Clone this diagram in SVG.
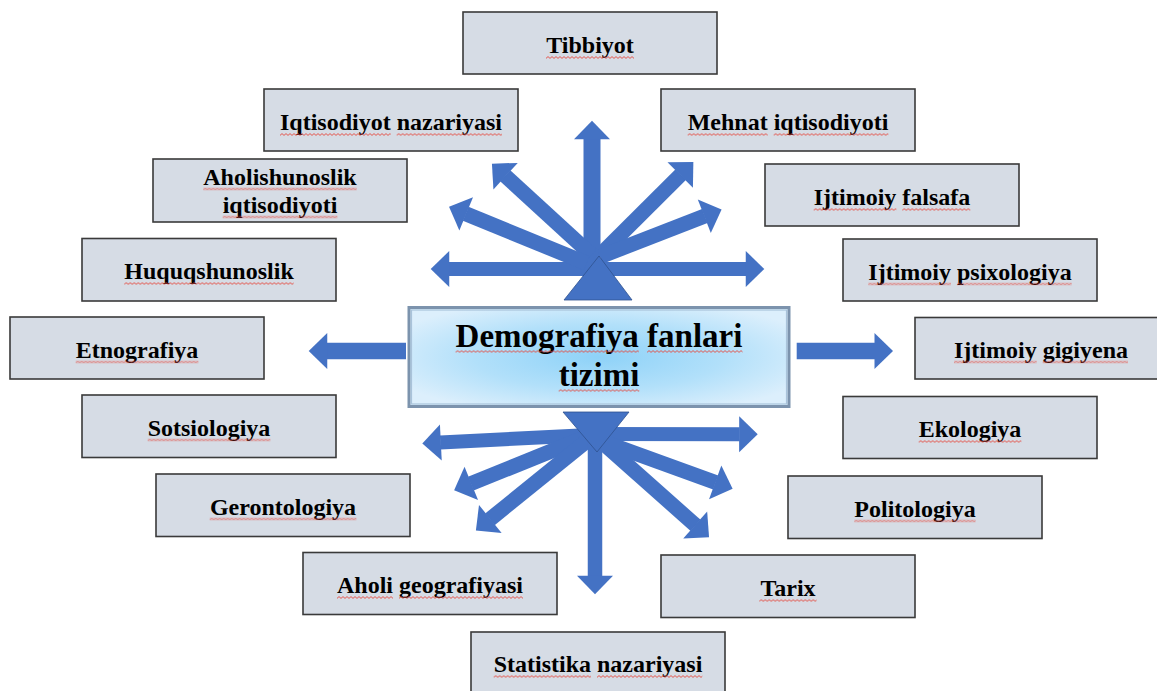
<svg xmlns="http://www.w3.org/2000/svg" width="1157" height="691" viewBox="0 0 1157 691">
<style>
.box{fill:#D6DCE5;stroke:#3A3A3A;stroke-width:1.6}
.lbl{font-family:"Liberation Serif","Times New Roman",serif;font-weight:bold;font-size:24px;fill:#000;text-anchor:middle}
.title{font-family:"Liberation Serif","Times New Roman",serif;font-weight:bold;font-size:33px;fill:#000;text-anchor:middle}
.wv{fill:url(#wv)}
.arr{stroke:#4472C4;fill:none;stroke-linecap:butt}
.tri{fill:#4472C4;stroke:#2F528F;stroke-width:0.8}
</style>
<defs>
<marker id="ah" markerUnits="userSpaceOnUse" markerWidth="20" markerHeight="36" viewBox="0 0 17 34" refX="0" refY="17" orient="auto-start-reverse" overflow="visible">
<path d="M-0.5,0 L17,17 L-0.5,34 Z" fill="#4472C4"/>
</marker>
<radialGradient id="cg" cx="0.5" cy="0.5" r="0.6">
<stop offset="0" stop-color="#8ED2F8"/>
<stop offset="0.55" stop-color="#B2E0FA"/>
<stop offset="1" stop-color="#DCEFFC"/>
</radialGradient>
<pattern id="wv" patternUnits="userSpaceOnUse" x="0" y="0" width="4" height="3">
<path d="M0,2.4 L2,0.6 L4,2.4" fill="none" stroke="#E5473C" stroke-width="0.9"/>
</pattern>
</defs>
<rect width="1157" height="691" fill="#FFFFFF"/>

<g id="connectors">
<line class="arr" x1="592" y1="262" x2="592" y2="138.7" stroke-width="17" marker-end="url(#ah)"/>
<line class="arr" x1="448.7" y1="269" x2="746.3" y2="269" stroke-width="14" marker-start="url(#ah)" marker-end="url(#ah)"/>
<line class="arr" x1="591.7" y1="255" x2="505.2" y2="175.8" stroke-width="15" marker-end="url(#ah)"/>
<line class="arr" x1="586.7" y1="263.3" x2="465.7" y2="213.7" stroke-width="15" marker-end="url(#ah)"/>
<line class="arr" x1="600" y1="255" x2="680.6" y2="174.7" stroke-width="15" marker-end="url(#ah)"/>
<line class="arr" x1="600" y1="256.7" x2="704.8" y2="216.1" stroke-width="15" marker-end="url(#ah)"/>
<polygon class="tri" points="564,300 632,300 599,256"/>

<line class="arr" x1="590" y1="435" x2="440.3" y2="442.5" stroke-width="14" marker-end="url(#ah)"/>
<line class="arr" x1="597" y1="434" x2="739.7" y2="434.3" stroke-width="14" marker-end="url(#ah)"/>
<line class="arr" x1="586.7" y1="436.7" x2="470.8" y2="483.6" stroke-width="15" marker-end="url(#ah)"/>
<line class="arr" x1="590" y1="438.3" x2="489.9" y2="519.3" stroke-width="15" marker-end="url(#ah)"/>
<line class="arr" x1="595" y1="440" x2="595" y2="576.3" stroke-width="14.5" marker-end="url(#ah)"/>
<line class="arr" x1="603.3" y1="441.7" x2="715.7" y2="482.5" stroke-width="15" marker-end="url(#ah)"/>
<line class="arr" x1="603.3" y1="443.3" x2="695.6" y2="525.4" stroke-width="15" marker-end="url(#ah)"/>
<polygon class="tri" points="563,412 629,412 597,452"/>

<line class="arr" x1="406" y1="351" x2="326.7" y2="351" stroke-width="16.7" marker-end="url(#ah)"/>
<line class="arr" x1="796.7" y1="351" x2="875" y2="351" stroke-width="16.7" marker-end="url(#ah)"/>
</g>

<g id="center">
<rect x="409" y="307.5" width="380" height="99" fill="url(#cg)" stroke="#7C93AD" stroke-width="3"/>
<rect x="411.5" y="310" width="375" height="94" fill="none" stroke="#A9C3DA" stroke-width="1.2"/>
<text class="title" x="599" y="347">Demografiya fanlari</text>
<text class="title" x="599" y="386">tizimi</text>
<rect class="wv" width="183.3" height="3" transform="translate(455.6,350)"/>
<rect class="wv" width="95.4" height="3" transform="translate(647.1,350)"/>
<rect class="wv" width="80.6" height="3" transform="translate(558.7,389)"/>
</g>

<g id="n-tibbiyot"><rect class="box" x="463" y="12" width="254" height="62"/><text class="lbl" x="590" y="53">Tibbiyot</text>
<rect class="wv" width="88" height="3" transform="translate(546,56)"/></g>
<g id="n-iqtisodiyot-nazariyasi"><rect class="box" x="264" y="89" width="254" height="62"/><text class="lbl" x="391" y="130">Iqtisodiyot nazariyasi</text>
<rect class="wv" width="110.7" height="3" transform="translate(280,133)"/><rect class="wv" width="105.3" height="3" transform="translate(396.7,133)"/></g>
<g id="n-mehnat"><rect class="box" x="661" y="89" width="254" height="62"/><text class="lbl" x="788" y="130">Mehnat iqtisodiyoti</text>
<rect class="wv" width="80" height="3" transform="translate(687.7,133)"/><rect class="wv" width="114.7" height="3" transform="translate(773.7,133)"/></g>
<g id="n-aholishunoslik"><rect class="box" x="153" y="159" width="254" height="63"/><text class="lbl" x="280" y="184.5">Aholishunoslik</text><text class="lbl" x="280" y="212.5">iqtisodiyoti</text>
<rect class="wv" width="153.4" height="3" transform="translate(203.3,187.5)"/><rect class="wv" width="114.7" height="3" transform="translate(222.7,215.5)"/></g>
<g id="n-falsafa"><rect class="box" x="765" y="164" width="254" height="62"/><text class="lbl" x="892" y="205">Ijtimoiy falsafa</text>
<rect class="wv" width="82.7" height="3" transform="translate(813.7,208)"/><rect class="wv" width="68" height="3" transform="translate(902.3,208)"/></g>
<g id="n-huquq"><rect class="box" x="82" y="238.5" width="254" height="62.5"/><text class="lbl" x="209" y="279">Huquqshunoslik</text>
<rect class="wv" width="169.4" height="3" transform="translate(124.3,282)"/></g>
<g id="n-psixologiya"><rect class="box" x="843" y="239" width="254" height="62"/><text class="lbl" x="970" y="279.5">Ijtimoiy psixologiya</text>
<rect class="wv" width="82.7" height="3" transform="translate(868.3,282.5)"/><rect class="wv" width="114.7" height="3" transform="translate(957,282.5)"/></g>
<g id="n-etnografiya"><rect class="box" x="10" y="317" width="254" height="62"/><text class="lbl" x="137" y="357.5">Etnografiya</text>
<rect class="wv" width="122.7" height="3" transform="translate(75.7,360.5)"/></g>
<g id="n-gigiyena"><rect class="box" x="915" y="317.5" width="254" height="61.5"/><text class="lbl" x="1041" y="357.5">Ijtimoiy gigiyena</text>
<rect class="wv" width="82.7" height="3" transform="translate(954,360.5)"/><rect class="wv" width="85.3" height="3" transform="translate(1042.7,360.5)"/></g>
<g id="n-sotsiologiya"><rect class="box" x="82" y="395" width="254" height="62.5"/><text class="lbl" x="209" y="435.5">Sotsiologiya</text>
<rect class="wv" width="122.7" height="3" transform="translate(147.7,438.5)"/></g>
<g id="n-ekologiya"><rect class="box" x="843" y="396.5" width="254" height="62"/><text class="lbl" x="970" y="437">Ekologiya</text>
<rect class="wv" width="102.7" height="3" transform="translate(918.7,440)"/></g>
<g id="n-gerontologiya"><rect class="box" x="156" y="474" width="254" height="62.5"/><text class="lbl" x="283" y="514.5">Gerontologiya</text>
<rect class="wv" width="146.7" height="3" transform="translate(209.7,517.5)"/></g>
<g id="n-politologiya"><rect class="box" x="788" y="476" width="254" height="62.5"/><text class="lbl" x="915" y="516.5">Politologiya</text>
<rect class="wv" width="121.3" height="3" transform="translate(854.3,519.5)"/></g>
<g id="n-aholi-geografiyasi"><rect class="box" x="303" y="552.5" width="254" height="62"/><text class="lbl" x="430" y="593">Aholi geografiyasi</text>
<rect class="wv" width="56" height="3" transform="translate(337,596)"/><rect class="wv" width="124" height="3" transform="translate(399,596)"/></g>
<g id="n-tarix"><rect class="box" x="661" y="555" width="254" height="62.5"/><text class="lbl" x="788" y="596">Tarix</text>
<rect class="wv" width="57.3" height="3" transform="translate(759.3,599)"/></g>
<g id="n-statistika"><rect class="box" x="471" y="632" width="254" height="62"/><text class="lbl" x="598" y="672">Statistika nazariyasi</text>
<rect class="wv" width="97.3" height="3" transform="translate(493.7,675)"/><rect class="wv" width="105.3" height="3" transform="translate(597,675)"/></g>
</svg>
